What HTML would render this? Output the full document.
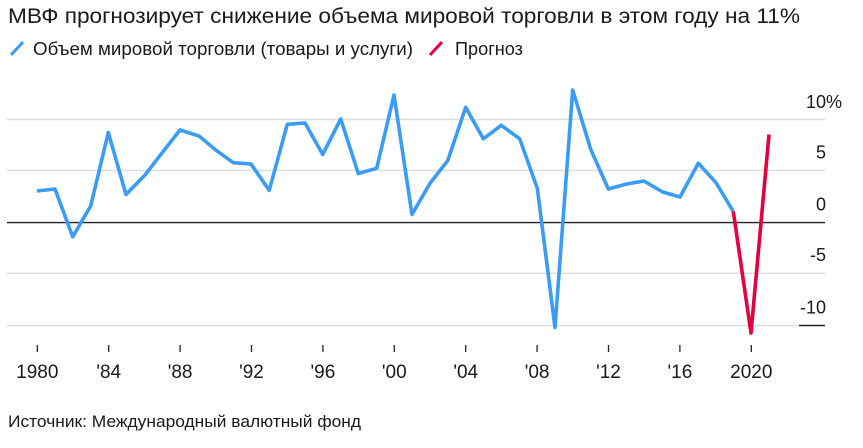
<!DOCTYPE html>
<html><head><meta charset="utf-8">
<style>
html,body{margin:0;padding:0;background:#fff;}
svg{display:block;}
text{font-family:"Liberation Sans","Noto Sans CJK SC",sans-serif;fill:#1a1a1a;}
</style></head>
<body>
<svg width="863" height="448" viewBox="0 0 863 448" xmlns="http://www.w3.org/2000/svg">
<text x="8" y="23" font-size="21" textLength="792" lengthAdjust="spacingAndGlyphs">МВФ прогнозирует снижение объема мировой торговли в этом году на 11%</text>
<line x1="11" y1="55" x2="23" y2="42" stroke="#3a9cf5" stroke-width="3"/>
<text x="33" y="55" font-size="18" textLength="380" lengthAdjust="spacingAndGlyphs">Объем мировой торговли (товары и услуги)</text>
<line x1="430" y1="55" x2="442" y2="42" stroke="#e4003c" stroke-width="3"/>
<text x="455" y="55" font-size="18" textLength="68" lengthAdjust="spacingAndGlyphs">Прогноз</text>

<g stroke="#dedede" stroke-width="1.4">
<line x1="7" y1="119.5" x2="825" y2="119.5"/>
<line x1="7" y1="170.5" x2="825" y2="170.5"/>
<line x1="7" y1="273.3" x2="825" y2="273.3"/>
<line x1="7" y1="325.5" x2="799" y2="325.5"/>
</g>
<line x1="799" y1="325.5" x2="825" y2="325.5" stroke="#222" stroke-width="1.4"/>
<line x1="7" y1="222.6" x2="825" y2="222.6" stroke="#222" stroke-width="1.4"/>

<g font-size="18">
<text x="806" y="108">10%</text>
<text x="826" y="158.5" text-anchor="end">5</text>
<text x="826" y="210.5" text-anchor="end">0</text>
<text x="826" y="261" text-anchor="end">-5</text>
<text x="826" y="313.5" text-anchor="end">-10</text>
</g>

<g stroke="#222" stroke-width="1.3">
<line x1="37.3" y1="345" x2="37.3" y2="352"/>
<line x1="108.7" y1="345" x2="108.7" y2="352"/>
<line x1="180.1" y1="345" x2="180.1" y2="352"/>
<line x1="251.5" y1="345" x2="251.5" y2="352"/>
<line x1="322.9" y1="345" x2="322.9" y2="352"/>
<line x1="394.3" y1="345" x2="394.3" y2="352"/>
<line x1="465.7" y1="345" x2="465.7" y2="352"/>
<line x1="537.1" y1="345" x2="537.1" y2="352"/>
<line x1="608.5" y1="345" x2="608.5" y2="352"/>
<line x1="679.9" y1="345" x2="679.9" y2="352"/>
<line x1="751.3" y1="345" x2="751.3" y2="352"/>
</g>
<g font-size="19" text-anchor="middle">
<text x="37.3" y="378">1980</text>
<text x="108.7" y="378">'84</text>
<text x="180.1" y="378">'88</text>
<text x="251.5" y="378">'92</text>
<text x="322.9" y="378">'96</text>
<text x="394.3" y="378">'00</text>
<text x="465.7" y="378">'04</text>
<text x="537.1" y="378">'08</text>
<text x="608.5" y="378">'12</text>
<text x="679.9" y="378">'16</text>
<text x="751.3" y="378">2020</text>
</g>

<polyline fill="none" stroke="#3a9cf5" stroke-width="3.6" stroke-linejoin="round" stroke-linecap="butt"
points="37,191 55,189 72.7,236.8 90.7,206 108.3,132.5 126,194.5 145,175 161.7,153.3 180,130 199,136 216.7,150.7 233.3,162.7 251,164 269.2,190.3 287.3,124.3 305,123 322.7,154.5 340.7,119 358.3,173.5 376.7,168.3 394,95 412,214.5 430,183.3 447.7,160.7 465.7,107.3 483.3,138.8 501.3,125.3 519.7,138.8 537.3,188.3 555,327.5 572.7,90 590.7,149.3 608.3,189 626.7,184 644,181 662.7,192 680,197 698.3,163.2 716,182.7 733.3,211.5"/>
<polyline fill="none" stroke="#e4003c" stroke-width="3.6" stroke-linejoin="round" stroke-linecap="butt"
points="733.3,211.5 751,333 769,134.5"/>

<text x="8" y="427" font-size="17" textLength="353" lengthAdjust="spacingAndGlyphs">Источник: Международный валютный фонд</text>
</svg>
</body></html>
